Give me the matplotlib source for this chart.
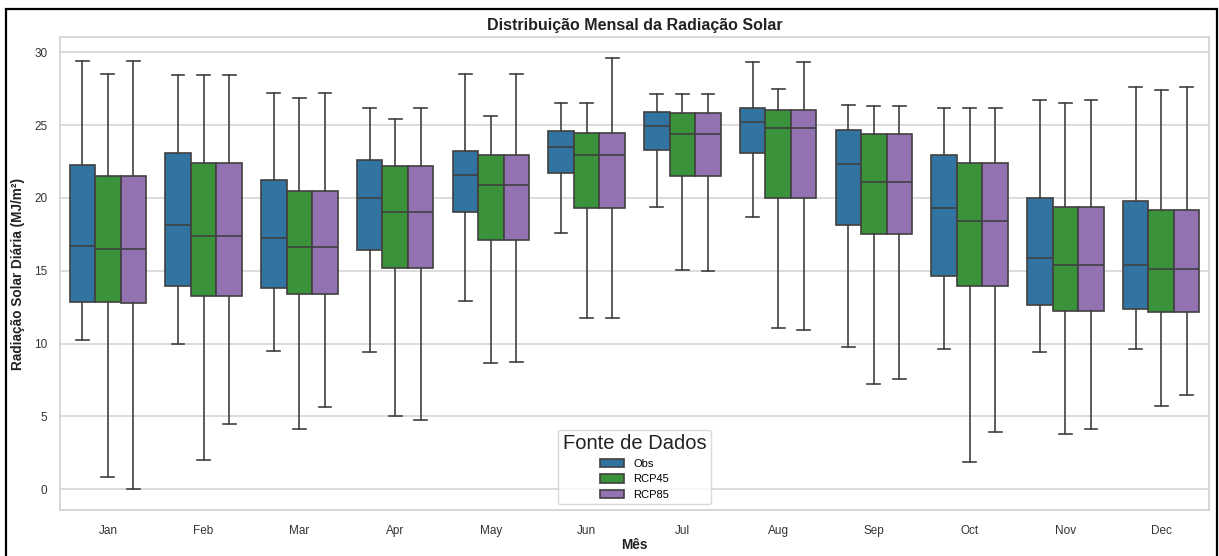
import matplotlib
matplotlib.use("Agg")
import matplotlib.pyplot as plt
import numpy as np
from matplotlib.patches import Patch, Rectangle

months = ["Jan", "Feb", "Mar", "Apr", "May", "Jun", "Jul", "Aug", "Sep", "Oct", "Nov", "Dec"]
series = ["Obs", "RCP45", "RCP85"]

# five-number summaries per series: whisker low, Q1, median, Q3, whisker high
obs_low  = [10.24, 9.99, 9.49, 9.44, 12.9, 17.6, 19.4, 18.7, 9.75, 9.63, 9.43, 9.63]
obs_q1   = [12.85, 13.97, 13.8, 16.43, 19.0, 21.7, 23.3, 23.1, 18.12, 14.67, 12.65, 12.36]
obs_med  = [16.69, 18.13, 17.26, 20.0, 21.6, 23.5, 24.9, 25.2, 22.33, 19.31, 15.84, 15.38]
obs_q3   = [22.24, 23.11, 21.21, 22.6, 23.2, 24.6, 25.9, 26.15, 24.67, 22.93, 19.96, 19.8]
obs_high = [29.37, 28.42, 27.23, 26.15, 28.47, 26.5, 27.1, 29.3, 26.36, 26.18, 26.7, 27.6]

r45_low  = [0.86, 2.03, 4.16, 5.05, 8.7, 11.74, 15.05, 11.1, 7.23, 1.85, 3.8, 5.7]
r45_q1   = [12.85, 13.3, 13.42, 15.18, 17.1, 19.3, 21.5, 20.0, 17.5, 13.94, 12.22, 12.15]
r45_med  = [16.46, 17.37, 16.62, 19.0, 20.85, 22.95, 24.35, 24.8, 21.1, 18.42, 15.38, 15.15]
r45_q3   = [21.49, 22.36, 20.46, 22.17, 22.95, 24.45, 25.8, 26.0, 24.39, 22.36, 19.34, 19.2]
r45_high = [28.48, 28.4, 26.82, 25.44, 25.6, 26.5, 27.1, 27.46, 26.33, 26.18, 26.5, 27.37]

r85_low  = [0.0, 4.48, 5.64, 4.77, 8.77, 11.74, 15.0, 10.96, 7.6, 3.91, 4.12, 6.45]
r85_q1   = [12.8, 13.3, 13.42, 15.18, 17.1, 19.3, 21.5, 20.0, 17.5, 13.94, 12.22, 12.15]
r85_med  = [16.46, 17.37, 16.62, 19.0, 20.85, 22.95, 24.35, 24.8, 21.1, 18.42, 15.38, 15.15]
r85_q3   = [21.49, 22.36, 20.46, 22.17, 22.95, 24.45, 25.8, 26.0, 24.39, 22.36, 19.34, 19.2]
r85_high = [29.37, 28.42, 27.23, 26.15, 28.5, 29.6, 27.1, 29.3, 26.33, 26.18, 26.7, 27.6]

data = {
    "Obs": (obs_low, obs_q1, obs_med, obs_q3, obs_high),
    "RCP45": (r45_low, r45_q1, r45_med, r45_q3, r45_high),
    "RCP85": (r85_low, r85_q1, r85_med, r85_q3, r85_high),
}
colors = {"Obs": "#3274a1", "RCP45": "#3a923a", "RCP85": "#9372b2"}

plt.rcParams['font.family'] = ['Liberation Sans', 'DejaVu Sans']

W, H = 1219, 556
fig = plt.figure(figsize=(W / 100, H / 100), dpi=100)
# outer black frame (open at bottom edge)
fig.add_artist(Rectangle((6 / W, -0.05), (1217 - 6) / W, 1.05 - 9.5 / H,
                         transform=fig.transFigure, fill=False,
                         edgecolor='black', linewidth=1.6, clip_on=False))
ax = fig.add_axes([60 / W, 1 - 510 / H, 1149 / W, 473 / H])

line_c = "#404040"
total_w = 0.8
bw = total_w / len(series)
for j, s in enumerate(series):
    lo, q1, med, q3, hi = data[s]
    stats = [dict(whislo=lo[i], q1=q1[i], med=med[i], q3=q3[i], whishi=hi[i], fliers=[])
             for i in range(len(months))]
    pos = np.arange(len(months)) - total_w / 2 + bw * (j + 0.5)
    ax.bxp(stats, positions=pos, widths=bw, patch_artist=True, showfliers=False,
           boxprops=dict(facecolor=colors[s], edgecolor=line_c, linewidth=1.2),
           medianprops=dict(color=line_c, linewidth=1.2),
           whiskerprops=dict(color=line_c, linewidth=1.2),
           capprops=dict(color=line_c, linewidth=1.2),
           capwidths=bw * 0.5, manage_ticks=False)

ax.set_xticks(np.arange(len(months)))
ax.set_xticklabels(months)
ax.set_xlim(-0.5, len(months) - 0.5)
ax.set_ylim(-1.42, 31.04)
ax.set_yticks([0, 5, 10, 15, 20, 25, 30])
ax.yaxis.grid(True, color="#d5d5d5", linewidth=1.2)
ax.xaxis.grid(False)
ax.set_axisbelow(True)
for sp in ax.spines.values():
    sp.set_color("#d0d0d0")
    sp.set_linewidth(1.2)
ax.tick_params(axis='y', length=0, labelsize=8.5, colors="#333333", pad=9)
ax.tick_params(axis='x', length=0, labelsize=8.5, colors="#333333", pad=10.5)

ax.set_title("Distribuição Mensal da Radiação Solar", fontsize=11.5, fontweight='bold', color="#222222", pad=5)
ax.set_xlabel("Mês", fontsize=9.8, fontweight='bold', color="#222222", labelpad=1)
ax.set_ylabel("Radiação Solar Diária (MJ/m²)", fontsize=9.8, fontweight='bold', color="#222222", labelpad=7)

handles = [Patch(facecolor=colors[s], edgecolor=line_c, linewidth=1.2, label=s) for s in series]
leg = ax.legend(handles=handles, title="Fonte de Dados", loc="lower center",
                fontsize=8, title_fontsize=14.5, frameon=True, borderpad=0.4,
                labelspacing=0.5, handlelength=2.2, handleheight=0.8,
                bbox_to_anchor=(0.5, 0.0))
leg.get_frame().set_edgecolor("#d0d0d0")
leg.get_title().set_color("#222222")

fig.savefig("out.png", dpi=100)
